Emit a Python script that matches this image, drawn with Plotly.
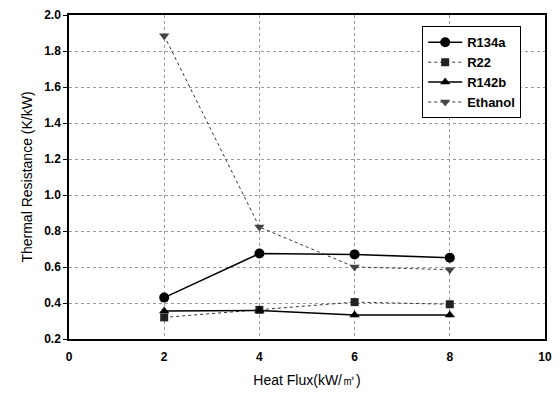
import plotly.graph_objects as go

heat_flux = [2, 4, 6, 8]
r134a = [0.43, 0.675, 0.67, 0.652]
r22 = [0.32, 0.362, 0.405, 0.393]
r142b = [0.355, 0.358, 0.333, 0.334]
ethanol = [1.885, 0.822, 0.60, 0.585]

x_ticks = [0, 2, 4, 6, 8, 10]
y_ticks = [0.2, 0.4, 0.6, 0.8, 1.0, 1.2, 1.4, 1.6, 1.8, 2.0]

fig = go.Figure()
fig.add_trace(go.Scatter(x=heat_flux, y=r134a, name="<b>R134a</b>", mode="lines+markers",
                         line=dict(color="black", width=1.5),
                         marker=dict(symbol="circle", size=10, color="black")))
fig.add_trace(go.Scatter(x=heat_flux, y=r22, name="<b>R22</b>", mode="lines+markers",
                         line=dict(color="#333", width=1, dash="dot"),
                         marker=dict(symbol="square", size=8, color="#222")))
fig.add_trace(go.Scatter(x=heat_flux, y=r142b, name="<b>R142b</b>", mode="lines+markers",
                         line=dict(color="black", width=1.5),
                         marker=dict(symbol="triangle-up", size=9, color="black")))
fig.add_trace(go.Scatter(x=heat_flux, y=ethanol, name="<b>Ethanol</b>", mode="lines+markers",
                         line=dict(color="#333", width=1, dash="dot"),
                         marker=dict(symbol="triangle-down", size=9, color="#444")))

fig.update_layout(
    width=560, height=396,
    margin=dict(l=69, r=8, t=12, b=57),
    paper_bgcolor="white", plot_bgcolor="white",
    font=dict(family="Liberation Sans, Arial", color="black"),
    legend=dict(x=0.742, y=0.965, xanchor="left", yanchor="top",
                bordercolor="black", borderwidth=1, bgcolor="white",
                font=dict(size=13, family="Liberation Sans, Arial"),
                tracegroupgap=0, itemwidth=34),
    xaxis=dict(range=[0, 10], tickvals=x_ticks,
               ticktext=["<b>%d</b>" % v for v in x_ticks],
               showline=True, linecolor="black", linewidth=1.5, mirror=True,
               showgrid=True, gridcolor="#999", griddash="dot", gridwidth=1,
               zeroline=False, ticks="", tickfont=dict(size=12),
               ticklabelstandoff=6,
               title=dict(text="Heat Flux(kW/㎡)", font=dict(size=14), standoff=12)),
    yaxis=dict(range=[0.2, 2.0], tickvals=y_ticks,
               ticktext=["<b>%.1f</b>" % v for v in y_ticks],
               showline=True, linecolor="black", linewidth=1.5, mirror=True,
               showgrid=True, gridcolor="#999", griddash="dot", gridwidth=1,
               zeroline=False, ticks="outside", ticklen=4, tickcolor="black",
               tickfont=dict(size=12),
               title=dict(text="Thermal Resistance (K/kW)", font=dict(size=14), standoff=8)),
)

fig.write_html("out.html")
